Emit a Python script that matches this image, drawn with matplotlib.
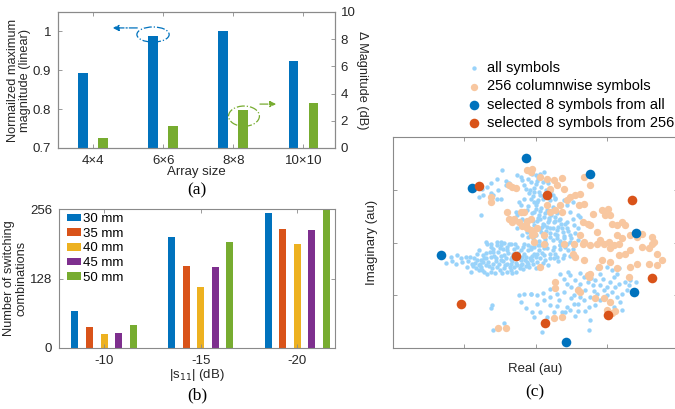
import numpy as np
import matplotlib
matplotlib.use('Agg')
import matplotlib.pyplot as plt
from matplotlib.patches import Ellipse

plt.rcParams['font.family'] = ['Liberation Sans', 'DejaVu Sans']
plt.rcParams['font.size'] = 9

BLUE = '#0072BD'
ORANGE = '#D95319'
YELLOW = '#EDB120'
PURPLE = '#7E2F8E'
GREEN = '#77AC30'
LIGHT_BLUE = '#99D3FA'
PEACH = '#F8C7A0'
SPINE = '#8a8a8a'
TEXT = '#262626'

# ---- (a) array size ----
array_sizes = ['4×4', '6×6', '8×8', '10×10']
norm_max_mag = [0.892, 0.988, 1.0, 0.925]
delta_mag_db = [0.76, 1.64, 2.79, 3.28]

# ---- (b) switching combinations ----
s11_levels = ['-10', '-15', '-20']
gap_labels = ['30 mm', '35 mm', '40 mm', '45 mm', '50 mm']
combos_30mm = [68, 204, 249]
combos_35mm = [38, 151, 220]
combos_40mm = [25, 112, 191]
combos_45mm = [27, 149, 218]
combos_50mm = [42, 196, 256]

# ---- (c) constellation (arbitrary units, ticks at -1, 0, 1) ----
all_symbols = [
    # upper left scatter / spike
    (-0.47, 1.37), (-0.42, 1.16), (-0.54, 1.21), (-0.63, 1.12), (-0.68, 1.05), (-0.75, 1.02),
    (-0.80, 0.87), (-0.73, 0.90), (-0.63, 0.93), (-0.59, 0.90), (-0.52, 0.99), (-0.49, 0.83),
    (-0.77, 0.52), (-0.54, 0.83), (-0.42, 1.09), (-0.37, 1.12), (-0.26, 1.28), (-0.21, 1.24),
    (-0.19, 1.18), (-0.16, 1.09), (-0.14, 1.02), (-0.09, 0.93), (-0.07, 0.83), (-0.02, 0.77),
    (-0.16, 0.83), (-0.23, 0.77), (-0.21, 0.71), (-0.28, 0.58), (-0.26, 0.52), (-0.19, 0.45),
    (-0.12, 0.61), (-0.07, 0.45), (-0.02, 0.33), (-0.21, 0.33), (-0.26, 0.27), (-0.19, 0.14),
    (-0.12, 0.20), (-0.70, 0.01), (-0.63, -0.02), (-0.54, 0.01), (-0.44, 0.00), (-0.37, -0.02),
    (-0.49, -0.05),
    # spike core
    (-0.05, 1.30), (0.03, 1.22), (0.10, 1.15), (-0.10, 1.20), (0.00, 1.10), (0.08, 1.05),
    (0.18, 1.12), (-0.08, 1.00), (0.05, 0.95), (0.13, 0.92), (0.22, 0.98), (-0.03, 0.88),
    (0.10, 0.82), (0.20, 0.80), (0.28, 0.85), (-0.10, 0.70), (0.00, 0.72), (0.08, 0.66),
    (0.16, 0.62), (0.25, 0.68), (0.33, 0.72), (-0.05, 0.55), (0.05, 0.52), (0.12, 0.48),
    (0.22, 0.52), (0.30, 0.55), (0.02, 0.40), (0.10, 0.35), (0.18, 0.38), (0.27, 0.40),
    (0.35, 0.45), (0.06, 0.25), (0.15, 0.22), (0.24, 0.28), (0.32, 0.30), (0.42, 0.35),
    (0.10, 0.12), (0.20, 0.10), (0.28, 0.16), (0.38, 0.20), (0.46, 0.22), (0.55, 0.18),
    (0.05, 0.03), (0.15, -0.02), (0.25, 0.04), (0.35, 0.02), (0.50, 0.08),
    (0.02, 1.17), (0.06, 1.30), (-0.02, 1.03), (0.15, 1.00), (0.11, 0.88), (0.03, 0.80),
    (0.17, 0.72), (0.24, 0.90), (0.07, 0.60), (0.00, 0.64), (0.13, 0.55), (0.19, 0.46),
    (0.27, 0.48), (0.04, 0.46), (-0.04, 0.40), (0.09, 0.30), (0.16, 0.30), (0.21, 0.18),
    (0.30, 0.24), (0.01, 0.15), (0.08, 0.20), (0.13, 0.06), (0.30, 0.08), (0.40, 0.12),
    (0.44, 0.28), (0.36, 0.36), (-0.10, 0.10), (-0.03, 0.08), (-0.10, 0.30), (-0.15, 0.40),
    # centre right
    (0.40, 0.80), (0.44, 0.71), (0.52, 0.77), (0.49, 0.58), (0.59, 0.52), (0.54, 0.33),
    (0.44, 0.39), (0.37, 0.27), (0.30, 0.14), (0.40, 0.08), (0.49, 0.14), (0.59, 0.27),
    (0.63, 0.49), (0.52, 0.45), (0.21, 0.27), (0.26, 0.39), (0.12, 0.33), (0.07, 0.45),
    (-0.02, 0.58), (0.02, 0.77), (-0.02, 0.96), (0.07, 0.90), (-0.07, 1.15), (0.00, 1.28),
    (0.12, 1.34), (0.21, 0.93), (0.28, 0.83), (0.33, 0.42), (0.19, 0.42), (0.14, 0.01),
    (0.35, -0.05),
    # left wing
    (-1.26, -0.39), (-1.19, -0.27), (-1.17, -0.35), (-1.12, -0.40), (-1.10, -0.24),
    (-1.05, -0.30), (-1.03, -0.37), (-0.98, -0.27), (-0.96, -0.46), (-0.91, -0.56),
    (-0.89, -0.40), (-0.84, -0.49), (-0.82, -0.21), (-0.80, -0.15), (-0.77, -0.33),
    (-0.75, -0.52), (-0.68, -0.59), (-0.70, -0.43), (-0.63, -0.27), (-0.59, -0.40),
    (-0.54, -0.46), (-0.49, -0.33), (-0.44, -0.49), (-0.40, -0.40), (-0.35, -0.52),
    (-0.30, -0.46), (-0.26, -0.43), (-0.19, -0.40), (-0.12, -0.37), (-0.05, -0.33),
    (-0.02, -0.21), (-0.16, -0.21), (-0.26, -0.08), (-0.40, -0.15), (-0.54, -0.05),
    (-0.63, -0.08), (-0.68, -0.02), (-0.49, 0.01), (-0.35, -0.02), (-0.16, -0.02),
    (-0.07, -0.08), (-0.87, -0.30), (-0.73, -0.24), (-0.59, -0.18), (-0.44, -0.24),
    (-0.33, -0.27), (-0.19, -0.27), (-0.09, -0.46), (0.00, -0.49),
    (-0.60, -0.12), (-0.50, -0.10), (-0.40, -0.08), (-0.30, -0.12), (-0.20, -0.14),
    (-0.10, -0.15), (-0.70, -0.20), (-0.55, -0.30), (-0.45, -0.35), (-0.35, -0.32),
    (-0.25, -0.30), (-0.15, -0.33), (-0.05, -0.25), (0.05, -0.15), (-0.65, -0.45),
    (-0.50, -0.52), (-0.40, -0.55), (-0.28, -0.55), (-0.18, -0.50), (-0.62, -0.55),
    (-0.78, -0.40), (-0.85, -0.38), (-0.72, -0.30), (-0.35, -0.40), (-0.20, -0.42),
    (-0.10, -0.40), (0.10, -0.38), (0.18, -0.42), (0.32, -0.35), (0.45, -0.15),
    (0.55, -0.05), (0.60, 0.05),
    (-0.95, -0.35), (-0.92, -0.28), (-0.88, -0.45), (-0.82, -0.33), (-0.80, -0.42),
    (-0.76, -0.47), (-0.73, -0.37), (-0.69, -0.30), (-0.66, -0.37), (-0.64, -0.18),
    (-0.61, -0.48), (-0.58, -0.25), (-0.56, -0.36), (-0.53, -0.18), (-0.51, -0.40),
    (-0.48, -0.26), (-0.46, -0.13), (-0.43, -0.42), (-0.41, -0.30), (-0.38, -0.20),
    (-0.36, -0.46), (-0.33, -0.36), (-0.31, -0.22), (-0.29, -0.03), (-0.27, -0.38),
    (-0.24, -0.20), (-0.22, -0.48), (-0.21, -0.33), (-0.18, -0.08), (-0.14, -0.27),
    (-0.13, -0.44), (-0.11, -0.05), (-0.08, -0.30), (-0.06, -0.12), (-0.03, -0.40),
    (0.00, -0.28), (0.03, -0.05), (0.06, -0.30), (0.09, -0.20), (0.12, -0.10),
    (0.20, -0.30), (0.24, -0.15), (0.28, -0.22), (0.34, -0.12), (0.38, -0.30),
    (0.48, -0.25), (0.52, -0.12), (-0.57, -0.58), (-0.47, -0.58), (-0.33, -0.58),
    (-0.72, -0.55), (-0.80, -0.52),
    # lower left stragglers
    (-0.63, -1.25), (-0.61, -1.19), (-0.44, -1.52), (-0.23, -1.00), (-0.21, -1.12),
    (-0.16, -0.97), (-0.07, -0.97), (-0.14, -1.25), (-0.05, -1.31), (-0.59, -1.65),
    # lower right cloud
    (-0.02, -0.08), (0.07, -0.05), (0.16, -0.11), (0.26, -0.08), (0.35, -0.05), (0.44, -0.02),
    (0.02, -0.21), (0.12, -0.24), (0.21, -0.21), (0.30, -0.27), (0.40, -0.24), (-0.07, -0.33),
    (0.02, -0.37), (0.14, -0.33), (0.26, -0.30), (0.42, -0.08), (0.49, 0.01),
    (-0.07, -0.97), (0.02, -1.00), (0.12, -1.09), (0.21, -1.03), (0.30, -0.97), (0.40, -0.93),
    (0.44, -0.78), (0.49, -0.62), (0.56, -0.71), (0.59, -0.87), (0.63, -0.78), (0.68, -0.65),
    (0.73, -0.75), (0.70, -0.90), (0.63, -1.03), (0.54, -1.16), (0.44, -1.22), (0.37, -1.31),
    (0.42, -1.31), (0.49, -1.28), (0.59, -1.16), (0.68, -1.09), (0.77, -1.03), (0.75, -1.22),
    (0.84, -1.19), (0.91, -1.09), (0.87, -0.97), (0.96, -0.90), (1.01, -0.84), (1.05, -0.75),
    (1.10, -0.65), (1.15, -0.59), (1.17, -0.78), (1.08, -0.93), (1.15, -1.03), (1.22, -0.97),
    (1.29, -0.90), (1.22, -1.28), (1.10, -1.22), (1.19, -1.12), (1.31, -0.81), (1.33, -0.71),
    (1.41, -0.75), (0.91, -0.59), (0.87, -0.49), (1.01, -0.46), (1.08, -0.52), (1.17, -0.49),
    (0.77, -1.47), (0.75, -1.65), (0.07, -1.31), (0.09, -1.69), (-0.02, -1.41), (0.16, -1.41),
    (0.26, -1.31), (0.21, -1.19), (0.02, -1.16), (0.33, -1.09), (0.54, -1.00), (0.80, -0.81),
    (0.84, -0.71),
    (0.35, -0.60), (0.40, -0.70), (0.50, -0.85), (0.62, -0.58), (0.78, -0.68), (0.82, -0.92),
    (0.95, -0.70), (1.00, -1.00), (0.60, -1.30), (0.50, -1.05), (0.30, -1.20), (0.10, -0.95),
    (0.20, -0.88), (0.45, -0.55), (0.90, -0.80), (1.12, -0.85), (1.25, -0.75), (0.70, -1.30),
    (0.55, -1.40), (0.15, -1.55),
]

columnwise_symbols = [
    (-0.37, 1.09), (-0.33, 1.05), (-0.28, 1.04), (-0.63, 0.87), (-0.63, 0.76), (-0.40, 0.58),
    (-0.37, 0.44), (-0.33, 0.39), (-0.30, 0.45), (-0.23, 0.39), (-0.16, 0.57), (-0.21, 0.58),
    (-0.12, 0.40), (-0.14, 0.33), (-0.12, 0.27), (-0.07, 0.23), (-0.19, 0.32), (-0.07, 1.34),
    (-0.12, 1.37), (-0.05, 0.14), (-0.02, 0.17),
    (0.07, 1.24), (0.16, 1.21), (0.26, 1.18), (0.37, 1.23), (0.30, 1.09), (0.40, 1.02),
    (0.21, 1.02), (0.16, 0.71), (0.21, 0.58), (0.28, 0.61), (0.37, 0.58), (0.35, 0.71),
    (0.44, 0.80), (0.49, 0.87), (0.56, 0.90), (0.63, 0.91), (0.61, 0.71), (0.68, 0.73),
    (0.77, 1.09), (0.68, 1.24), (0.80, 0.54), (0.66, 0.39), (0.73, 0.36), (0.77, 0.33),
    (0.87, 0.20), (0.94, 0.61), (0.98, 0.52), (1.05, 0.52), (1.02, 0.63), (1.08, 0.36),
    (1.15, 0.33), (1.22, 0.39), (1.26, 0.33), (1.15, 0.14), (1.22, 0.08), (1.33, 0.14),
    (1.43, 0.11), (1.50, 0.17), (1.64, 0.11), (1.66, 0.01), (0.91, 0.04), (0.63, 0.14),
    (0.68, 0.01), (0.54, -0.02), (0.12, 0.14), (0.02, 0.27), (-0.02, 0.01), (-0.05, 1.40),
    (-0.07, 0.45),
    (-0.52, -1.62), (-0.42, -1.62),
    (0.12, -0.03), (0.40, -0.03), (0.66, -0.02), (0.77, -0.05), (0.87, -0.02), (0.96, -0.02),
    (1.03, 0.01), (1.10, -0.05), (1.17, -0.02), (1.05, -0.11), (1.17, -0.24), (1.26, -0.21),
    (1.33, -0.15), (1.50, -0.08), (1.59, -0.11), (1.64, -0.02), (1.71, -0.21), (1.78, -0.33),
    (1.71, -0.43), (1.59, -0.40), (1.43, -0.40), (1.33, -0.46), (1.31, -0.65), (1.15, -0.49),
    (1.05, -0.37), (0.94, -0.33), (0.89, -0.46), (0.77, -0.59), (0.75, -0.65), (0.68, -0.33),
    (0.56, -0.27), (0.52, -0.21), (0.07, -0.46), (0.28, -0.75), (0.28, -0.87), (0.59, -0.90),
    (0.63, -0.93), (0.84, -1.06), (0.96, -1.06), (1.05, -1.12), (1.01, -1.28), (1.08, -1.33),
    (1.12, -1.29), (0.26, -1.44), (0.37, -1.41), (0.73, -0.62),
]

selected_from_all = [
    (-0.14, 1.61), (0.76, 1.30), (-0.89, 1.03), (1.41, 0.18),
    (-1.33, -0.23), (1.38, -0.93), (0.43, -1.88),
]

selected_from_256 = [
    (-0.79, 1.07), (0.16, 0.90), (1.36, 0.80), (-0.27, -0.26),
    (1.63, -0.67), (-1.04, -1.17), (1.02, -1.38), (0.14, -1.52),
]


def matlab_style(ax):
    for s in ax.spines.values():
        s.set_color(SPINE)
        s.set_linewidth(0.8)
    ax.tick_params(direction='in', length=3, width=0.6, color=SPINE,
                   labelcolor=TEXT, labelsize=9.5, pad=4)


fig = plt.figure(figsize=(6.75, 4.09), dpi=100)

# ---------------- (a) ----------------
ax_a = fig.add_axes([58 / 675, 1 - 148 / 409, 277 / 675, 136 / 409])
xa = np.arange(1, len(array_sizes) + 1)
ax_a.bar(xa - 0.143, norm_max_mag, width=0.14, color=BLUE, edgecolor='none')
ax_a.set_xlim(0.5, 4.45)
ax_a.set_ylim(0.7, 1.05)
ax_a.set_yticks([0.7, 0.8, 0.9, 1.0])
ax_a.set_yticklabels(['0.7', '0.8', '0.9', '1'])
ax_a.set_xticks(xa)
ax_a.set_xticklabels(array_sizes)
matlab_style(ax_a)
ax_a.tick_params(axis='x', top=True, pad=5)
ax_a.tick_params(axis='y', pad=5)
ax_a.set_xlabel('Array size', color=TEXT, labelpad=-1, fontsize=9.5)
ax_a.set_ylabel('Normailzed maximum\nmagnitude (linear)', color=TEXT, labelpad=1,
                linespacing=1.0, fontsize=9.2)

ax_r = ax_a.twinx()
ax_r.bar(xa + 0.143, delta_mag_db, width=0.14, color=GREEN, edgecolor='none')
ax_r.set_ylim(0, 10)
ax_r.set_yticks([0, 2, 4, 6, 8, 10])
matlab_style(ax_r)
ax_r.tick_params(axis='y', pad=4)
ax_r.set_ylabel('Δ Magnitude (dB)', rotation=270, color=TEXT, labelpad=9, fontsize=9.2)

# annotation ellipses and arrows
ax_a.add_patch(Ellipse((1.855, 0.992), 0.46, 0.039, fill=False, edgecolor=BLUE,
                       linestyle='-.', linewidth=0.9))
ax_a.annotate('', xy=(1.24, 1.009), xytext=(1.67, 1.009),
              arrowprops=dict(arrowstyle='-|>', color=BLUE, linestyle='-.', lw=0.9))
ax_a.add_patch(Ellipse((3.152, 0.782), 0.44, 0.052, fill=False, edgecolor=GREEN,
                       linestyle='-.', linewidth=0.9))
ax_a.annotate('', xy=(3.65, 0.813), xytext=(3.34, 0.813),
              arrowprops=dict(arrowstyle='-|>', color=GREEN, linestyle='-.', lw=0.9))

# ---------------- (b) ----------------
ax_b = fig.add_axes([59 / 675, 1 - 348 / 409, 276 / 675, 139 / 409])
xb = np.arange(1, len(s11_levels) + 1)
series_b = [combos_30mm, combos_35mm, combos_40mm, combos_45mm, combos_50mm]
colors_b = [BLUE, ORANGE, YELLOW, PURPLE, GREEN]
for i, (vals, col, lab) in enumerate(zip(series_b, colors_b, gap_labels)):
    ax_b.bar(xb + (i - 2) * 0.151, vals, width=0.073, color=col, edgecolor='none', label=lab)
ax_b.set_xlim(0.534, 3.39)
ax_b.set_ylim(0, 256)
ax_b.set_yticks([0, 128, 256])
ax_b.set_xticks(xb)
ax_b.set_xticklabels(s11_levels)
matlab_style(ax_b)
ax_b.tick_params(axis='x', top=True, pad=5)
ax_b.tick_params(axis='y', right=True, pad=5)
ax_b.set_xlabel('|s$_{11}$| (dB)', color=TEXT, labelpad=0, fontsize=9.5)
ax_b.set_ylabel('Number of switching\ncombinations', color=TEXT, labelpad=2,
                linespacing=1.0, fontsize=9.2)
ax_b.legend(loc='upper left', bbox_to_anchor=(0.028, 0.97), frameon=False, fontsize=9.5,
            handlelength=1.1, handleheight=0.5, handletextpad=0.1, labelspacing=0.2,
            borderpad=0, borderaxespad=0)

# ---------------- (c) ----------------
ax_c = fig.add_axes([393 / 675, 1 - 348 / 409, 285 / 675, 211 / 409])
pa = np.array(all_symbols)
pc = np.array(columnwise_symbols)
ps = np.array(selected_from_all)
po = np.array(selected_from_256)
ax_c.scatter(pa[:, 0], pa[:, 1], s=10, color=LIGHT_BLUE, linewidths=0, label='all symbols')
ax_c.scatter(pc[:, 0], pc[:, 1], s=28, color=PEACH, linewidths=0,
             label='256 columnwise symbols')
ax_c.scatter(ps[:, 0], ps[:, 1], s=48, color=BLUE, linewidths=0,
             label='selected 8 symbols from all')
ax_c.scatter(po[:, 0], po[:, 1], s=48, color=ORANGE, linewidths=0,
             label='selected 8 symbols from 256')
ax_c.set_xlim(-2, 2)
ax_c.set_ylim(-2, 2)
ax_c.set_xticks([-1, 0, 1])
ax_c.set_yticks([-1, 0, 1])
ax_c.set_xticklabels([])
ax_c.set_yticklabels([])
matlab_style(ax_c)
ax_c.tick_params(top=True, right=True)
ax_c.set_xlabel('Real (au)', color=TEXT, labelpad=7, fontsize=9.5)
ax_c.set_ylabel('Imaginary (au)', color=TEXT, labelpad=7, fontsize=9.5)
ax_c.legend(loc='upper left', bbox_to_anchor=(468 / 675, 1 - 61 / 409),
            bbox_transform=fig.transFigure, frameon=False, fontsize=10.5,
            scatterpoints=1, handlelength=0.8, handletextpad=0.5, labelspacing=0.3,
            borderpad=0, borderaxespad=0)

# panel captions
fig.text(197 / 675, 1 - 190 / 409, '(a)', ha='center', va='center',
         family='Liberation Serif', fontsize=12.5, color='black')
fig.text(197 / 675, 1 - 395 / 409, '(b)', ha='center', va='center',
         family='Liberation Serif', fontsize=12.5, color='black')
fig.text(535 / 675, 1 - 392 / 409, '(c)', ha='center', va='center',
         family='Liberation Serif', fontsize=12.5, color='black')

fig.savefig('out.png', dpi=100)
